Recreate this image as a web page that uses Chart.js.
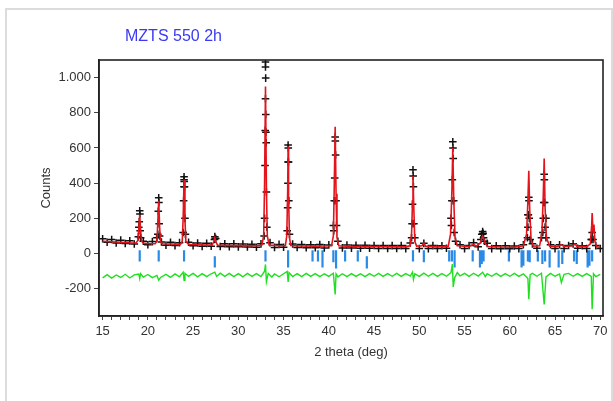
<!DOCTYPE html>
<html>
<head>
<meta charset="utf-8">
<script src="https://cdn.jsdelivr.net/npm/chart.js@4.4.1/dist/chart.umd.min.js"></script>
<style>
  body { margin: 0; background: #fff; }
  #frame { position: absolute; left: 5px; top: 8px; width: 604px; height: 420px; border: 2px solid #dcdcdc; }
  #wrap { position: absolute; left: 0; top: 0; width: 613px; height: 401px; }
</style>
</head>
<body>
<div id="frame"></div>
<div id="wrap"><canvas id="rietveld" width="613" height="401"></canvas></div>
<script>
// observed counts on a 0.5 deg grid
const gridTheta = [15.0,15.5,16.0,16.5,17.0,17.5,18.0,18.5,19.0,19.5,20.0,20.5,21.0,21.5,22.0,22.5,23.0,23.5,24.0,24.5,
  25.0,25.5,26.0,26.5,27.0,27.5,28.0,28.5,29.0,29.5,30.0,30.5,31.0,31.5,32.0,32.5,33.0,33.5,34.0,34.5,
  35.0,35.5,36.0,36.5,37.0,37.5,38.0,38.5,39.0,39.5,40.0,40.5,41.0,41.5,42.0,42.5,43.0,43.5,44.0,44.5,
  45.0,45.5,46.0,46.5,47.0,47.5,48.0,48.5,49.0,49.5,50.0,50.5,51.0,51.5,52.0,52.5,53.0,53.5,54.0,54.5,
  55.0,55.5,56.0,56.5,57.0,57.5,58.0,58.5,59.0,59.5,60.0,60.5,61.0,61.5,62.0,62.5,63.0,63.5,64.0,64.5,
  65.0,65.5,66.0,66.5,67.0,67.5,68.0,68.5,69.0,69.5,70.0];
const gridCounts = [84,64,80,60,76,57,72,54,150,70,50,68,90,66,47,64,45,62,380,64,
  44,60,41,58,42,85,40,56,39,55,38,54,37,53,36,55,880,62,35,52,
  36,520,54,34,51,33,50,33,51,32,49,160,70,32,48,31,47,30,47,30,
  46,29,46,29,45,29,45,28,60,90,28,58,28,45,28,44,30,200,70,50,
  28,46,62,38,110,58,28,44,27,44,27,43,28,50,220,55,30,90,200,50,
  28,50,28,46,55,30,44,28,80,45,28];

// observed points on the peak flanks
const peakTheta = [18.95,19.05,19.1,19.12,19.15,19.2,
  21.1,21.15,21.2,21.22,21.25,21.3,
  23.9,23.95,24.0,24.0,24.02,24.05,24.1,24.15,
  27.35,27.4,27.45,
  32.85,32.9,32.95,32.97,33.0,33.0,33.02,33.03,33.05,33.08,33.1,33.15,
  35.4,35.45,35.48,35.5,35.52,35.55,35.58,35.65,
  40.55,40.6,40.65,40.7,40.72,40.75,40.8,40.85,
  49.15,49.2,49.25,49.3,49.32,49.35,49.4,
  53.55,53.6,53.65,53.7,53.72,53.75,53.8,53.85,
  56.8,56.9,57.0,57.05,57.1,57.2,
  61.95,62.0,62.05,62.1,62.12,62.15,62.25,
  63.65,63.7,63.75,63.8,63.82,63.85,63.9,64.0,
  69.05,69.1,69.2];
const peakCounts = [95,180,243,225,130,90,
  110,240,317,290,170,100,
  120,300,436,420,410,380,200,110,
  80,96,85,
  100,200,500,700,1088,1060,997,790,690,630,350,150,
  130,260,400,617,600,520,300,110,
  130,300,430,663,640,560,300,160,
  90,170,280,476,440,380,170,
  160,300,420,635,600,540,300,120,
  80,110,125,115,90,70,
  90,150,220,320,300,200,80,
  120,200,290,450,420,290,150,90,
  80,120,80];

// calculated profile
const calcTheta = [15.0,16.0,17.0,18.0,18.7,18.9,19.0,19.1,19.2,19.3,19.5,20.0,20.8,21.0,21.1,21.2,21.3,21.4,21.6,22.5,
  23.6,23.8,23.9,24.0,24.1,24.2,24.5,25.5,26.5,27.1,27.3,27.4,27.5,27.7,29.0,30.5,32.0,32.6,32.8,32.9,
  33.0,33.1,33.2,33.4,34.5,35.2,35.35,35.45,35.5,35.55,35.65,35.8,37.0,38.5,40.3,40.5,40.6,40.7,40.8,40.9,
  41.1,42.5,44.5,46.5,48.5,49.0,49.15,49.25,49.3,49.38,49.5,49.7,50.3,50.5,50.7,52.0,53.2,53.45,53.6,53.7,
  53.8,53.95,54.2,55.5,56.0,56.3,56.75,56.9,57.0,57.1,57.3,57.6,59.0,60.5,61.5,61.85,62.0,62.1,62.2,62.35,
  62.6,63.3,63.55,63.7,63.8,63.9,64.05,64.4,65.2,65.7,66.0,67.0,67.2,67.4,68.5,68.9,69.05,69.1,69.2,69.3,
  69.4,69.6,70.0];
const calcCounts = [70,67,64,61,60,75,140,220,130,70,60,57,56,70,180,300,150,68,56,54,
  52,70,200,420,190,68,53,50,48,48,70,90,68,48,46,45,44,48,100,400,
  950,380,100,48,44,46,100,350,610,330,90,46,43,42,44,100,380,720,340,90,
  44,41,40,39,38,45,120,300,440,280,70,42,44,60,42,38,42,110,360,600,
  320,90,44,40,52,42,60,90,100,90,55,40,37,36,44,110,300,470,250,80,
  42,44,120,330,540,260,90,42,39,50,40,44,55,42,38,55,160,230,120,165,
  70,38,36];

// difference (obs - calc), offset
const diffTheta = [15.0,15.5,16.0,16.5,17.0,17.5,18.0,18.5,19.0,19.1,19.2,19.5,20.0,20.5,21.0,21.2,21.4,22.0,22.5,23.0,
  23.5,23.9,24.0,24.1,24.5,25.0,25.5,26.0,26.5,27.0,27.4,27.6,28.0,28.5,29.0,29.5,30.0,30.5,31.0,31.5,
  32.0,32.5,32.9,33.0,33.1,33.3,33.7,34.0,34.5,35.0,35.4,35.5,35.6,36.0,36.5,37.0,37.5,38.0,38.5,39.0,
  39.5,40.0,40.5,40.7,40.8,41.0,41.5,42.0,42.5,43.0,43.5,44.0,44.5,45.0,45.5,46.0,46.5,47.0,47.5,48.0,
  48.5,49.0,49.25,49.35,49.5,50.0,50.5,51.0,51.5,52.0,52.5,53.0,53.5,53.65,53.75,53.9,54.2,54.5,55.0,55.5,
  56.0,56.5,57.0,57.3,57.5,58.0,58.5,59.0,59.5,60.0,60.5,61.0,61.5,62.0,62.1,62.25,62.5,63.0,63.5,63.8,
  64.0,64.5,65.0,65.5,65.7,66.0,66.5,67.0,67.5,68.0,68.5,69.0,69.1,69.25,69.5,70.0];
const diffCounts = [-138,-120,-140,-122,-136,-118,-139,-121,-116,-142,-114,-134,-119,-137,-124,-152,-136,-118,-135,-116,
  -132,-106,-152,-112,-130,-113,-132,-114,-131,-115,-106,-130,-112,-130,-113,-131,-114,-132,-113,-130,
  -114,-131,-100,-62,-160,-113,-133,-116,-132,-115,-102,-162,-108,-131,-114,-131,-113,-130,-114,-131,
  -115,-130,-112,-232,-116,-133,-115,-131,-114,-130,-115,-131,-114,-129,-113,-130,-114,-129,-113,-130,
  -114,-128,-106,-147,-115,-130,-111,-129,-113,-130,-114,-129,-108,-60,-190,-138,-108,-127,-113,-130,
  -112,-128,-106,-131,-114,-129,-113,-130,-114,-129,-113,-130,-115,-142,-260,-120,-113,-129,-112,-290,
  -133,-113,-129,-116,-165,-118,-113,-129,-114,-130,-114,-130,-317,-115,-131,-118];

// Bragg reflection markers
const braggPos = [19.1,21.2,24.0,27.4,33.0,35.5,38.2,38.8,39.3,40.5,40.8,41.8,43.2,44.2,49.3,50.5,53.3,53.6,53.9,55.9,
  56.7,56.9,57.1,59.9,61.3,61.5,62.0,62.2,63.1,63.6,63.9,64.4,65.4,65.8,67.1,67.4,68.6,68.8,69.1];
const braggTop = [18,18,18,-15,18,18,18,18,18,18,18,18,18,-15,18,18,18,18,18,18,
  18,18,18,18,18,18,18,18,18,18,18,18,18,18,18,18,18,18,18];
const braggBottom = [-45,-45,-45,-80,-45,-80,-45,-45,-80,-50,-85,-45,-45,-85,-45,-50,-45,-45,-80,-45,
  -80,-60,-45,-45,-80,-70,-45,-50,-45,-60,-45,-80,-80,-60,-45,-60,-80,-70,-45];

const xTicks = [15, 20, 25, 30, 35, 40, 45, 50, 55, 60, 65, 70];

const pairs = (xs, ys) => xs.map((x, i) => ({x: x, y: ys[i]}));

const obsData = pairs(gridTheta, gridCounts).concat(pairs(peakTheta, peakCounts));
const braggData = [];
braggPos.forEach((p, i) => {
  braggData.push({x: p, y: braggTop[i]});
  braggData.push({x: p, y: braggBottom[i]});
  braggData.push({x: p, y: null});
});

const font = 'Liberation Sans, Arial, sans-serif';

const plotFrame = {
  id: 'plotFrame',
  afterDraw(chart) {
    const {ctx, chartArea: a} = chart;
    ctx.save();
    ctx.strokeStyle = '#222';
    ctx.lineWidth = 1.6;
    ctx.strokeRect(a.left, a.top, a.right - a.left, a.bottom - a.top);
    // sample name
    ctx.fillStyle = '#3a3af2';
    ctx.font = '16px ' + font;
    ctx.textBaseline = 'middle';
    ctx.fillText('MZTS 550 2h', 125, 37);
    ctx.restore();
  }
};

new Chart(document.getElementById('rietveld'), {
  type: 'scatter',
  data: {
    datasets: [
      {
        label: 'calc',
        data: pairs(calcTheta, calcCounts),
        showLine: true,
        borderColor: '#e3141c',
        borderWidth: 1.6,
        pointRadius: 0,
        order: 1
      },
      {
        label: 'obs',
        data: obsData,
        pointStyle: 'cross',
        pointRadius: 3.8,
        borderColor: '#111',
        borderWidth: 1.5,
        order: 2
      },
      {
        label: 'diff',
        data: pairs(diffTheta, diffCounts),
        showLine: true,
        borderColor: '#1ee01e',
        borderWidth: 1.4,
        pointRadius: 0,
        order: 3
      },
      {
        label: 'bragg',
        data: braggData,
        showLine: true,
        spanGaps: false,
        borderColor: '#2a8be6',
        borderWidth: 2.2,
        pointRadius: 0,
        order: 4
      }
    ]
  },
  options: {
    responsive: false,
    animation: false,
    layout: { padding: { left: 0, right: 10, top: 60, bottom: 0 } },
    plugins: {
      legend: { display: false },
      tooltip: { enabled: false }
    },
    scales: {
      x: {
        type: 'linear',
        min: 14.6,
        max: 70.3,
        afterFit: s => { s.height = 85; },
        ticks: {
          stepSize: 1,
          includeBounds: false,
          autoSkip: false,
          maxRotation: 0,
          padding: 4,
          color: '#333',
          font: { family: font, size: 13 },
          callback: v => xTicks.includes(v) ? String(v) : ''
        },
        grid: { drawOnChartArea: false, tickLength: 4, color: '#444' },
        border: { color: '#222', width: 1.6 },
        title: {
          display: true,
          text: '2 theta (deg)',
          color: '#333',
          font: { family: font, size: 13 },
          padding: { top: 0, bottom: 41 }
        }
      },
      y: {
        min: -355,
        max: 1100,
        afterFit: s => { s.width = 99; },
        ticks: {
          stepSize: 200,
          includeBounds: false,
          padding: 3,
          color: '#333',
          font: { family: font, size: 13 },
          callback: v => v === 1000 ? '1.000' : String(v)
        },
        grid: { drawOnChartArea: false, tickLength: 5, color: '#444' },
        border: { color: '#222', width: 1.6 },
        title: {
          display: true,
          text: 'Counts',
          color: '#333',
          font: { family: font, size: 13 },
          padding: { top: 39, bottom: 0 }
        }
      }
    }
  },
  plugins: [plotFrame]
});
</script>
</body>
</html>
